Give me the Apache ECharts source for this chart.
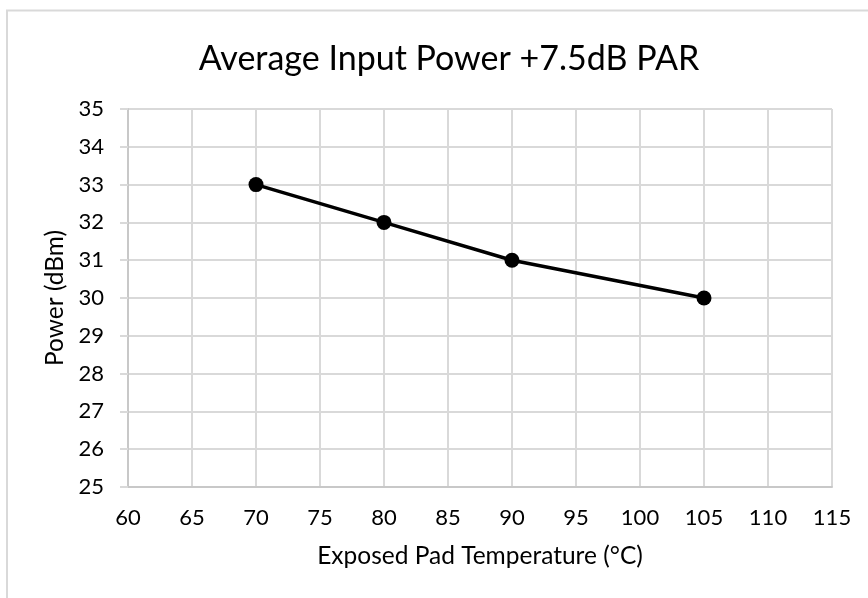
<!DOCTYPE html>
<html>
<head>
<meta charset="utf-8">
<script src="https://cdn.jsdelivr.net/npm/echarts@6/dist/echarts.min.js"></script>
<style>
html,body{margin:0;padding:0;background:#fff;}
#c{width:868px;height:598px;}
</style>
</head>
<body>
<div id="c"></div>
<script>
const titleText = 'Average Input Power +7.5dB PAR';
const xAxisName = 'Exposed Pad Temperature (°C)';
const yAxisName = 'Power (dBm)';
const temperatures = [70, 80, 90, 105];
const powers = [33, 32, 31, 30];
const xMin = 60, xMax = 115, xStep = 5;
const yMin = 25, yMax = 35, yStep = 1;

const FONT = 'Lato';
const chart = echarts.init(document.getElementById('c'), null, {renderer: 'canvas'});
chart.setOption({
  animation: false,
  backgroundColor: '#ffffff',
  textStyle: {fontFamily: FONT},
  graphic: [{
    type: 'rect',
    shape: {x: 7, y: 10.5, width: 920, height: 700},
    style: {fill: 'none', stroke: '#d9d9d9', lineWidth: 2},
    silent: true, z: -1
  }],
  title: {
    text: titleText,
    left: 444, top: 37,
    textAlign: 'center',
    textStyle: {fontFamily: FONT, fontSize: 34, fontWeight: 'normal', color: '#000'}
  },
  grid: {left: 128, right: 36, top: 109, bottom: 111, containLabel: false},
  xAxis: {
    type: 'value', min: xMin, max: xMax, interval: xStep,
    name: xAxisName, nameLocation: 'middle', nameGap: 57,
    nameTextStyle: {fontFamily: FONT, fontSize: 24.5, color: '#000'},
    axisLine: {show: true, lineStyle: {color: '#c8c8c8', width: 2}},
    axisTick: {show: false},
    axisLabel: {fontFamily: FONT, fontSize: 22, color: '#000', margin: 20},
    splitLine: {show: true, lineStyle: {color: '#d9d9d9', width: 2}}
  },
  yAxis: {
    type: 'value', min: yMin, max: yMax, interval: yStep,
    name: yAxisName, nameLocation: 'middle', nameGap: 57,
    nameTextStyle: {fontFamily: FONT, fontSize: 24.5, color: '#000'},
    axisLine: {show: true, lineStyle: {color: '#c8c8c8', width: 2}},
    axisTick: {show: true, length: 8, lineStyle: {color: '#d9d9d9', width: 2}},
    axisLabel: {fontFamily: FONT, fontSize: 22, color: '#000', margin: 24},
    splitLine: {show: true, lineStyle: {color: '#d9d9d9', width: 2}}
  },
  series: [{
    type: 'line',
    data: temperatures.map((t, i) => [t, powers[i]]),
    symbol: 'circle', symbolSize: 15,
    lineStyle: {color: '#000', width: 3.5},
    itemStyle: {color: '#000'},
    z: 5
  }]
});
</script>
</body>
</html>
